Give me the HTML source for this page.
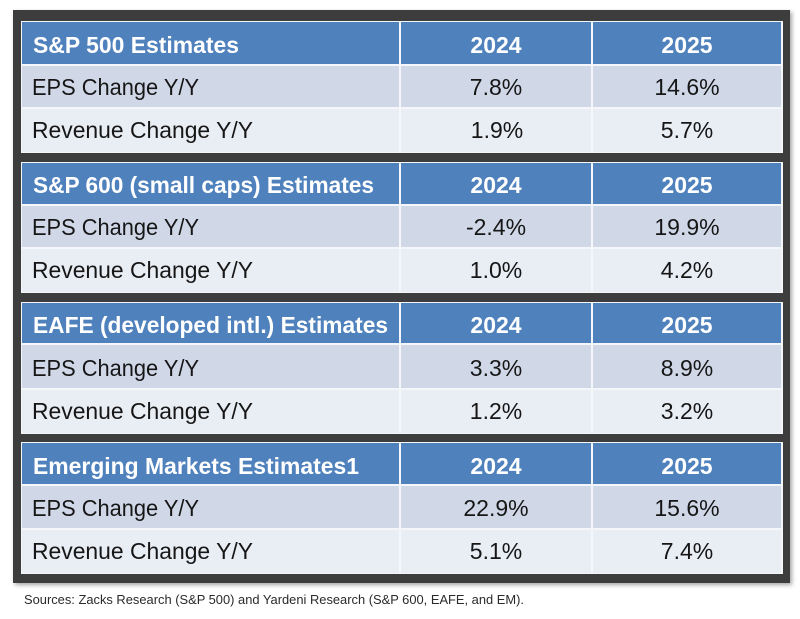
<!DOCTYPE html>
<html>
<head>
<meta charset="utf-8">
<style>
  html, body { margin:0; padding:0; background:#ffffff; }
  body { width:800px; height:619px; overflow:hidden; }
  svg { display:block; }
  text { font-family:"Liberation Sans", sans-serif; }
  .h { font-weight:bold; fill:#ffffff; font-size:23px; }
  .r { fill:#161616; font-size:23px; }
</style>
</head>
<body>
<svg width="800" height="619" viewBox="0 0 800 619" xmlns="http://www.w3.org/2000/svg">
  <defs>
    <filter id="sh" x="-5%" y="-5%" width="110%" height="110%">
      <feDropShadow dx="2" dy="2" stdDeviation="2" flood-color="#000" flood-opacity="0.35"/>
    </filter>
  </defs>
  <rect x="0" y="0" width="800" height="619" fill="#ffffff"/>
  <!-- dark frame -->
  <rect x="13" y="10" width="777" height="573" fill="#3c3c3c" filter="url(#sh)"/>

  <!-- Section 1 T=22 -->
  <g>
    <rect x="21" y="21" width="762" height="132" fill="#f4f6fa"/>
    <rect x="22" y="22" width="377" height="42" fill="#4f81bd"/>
    <rect x="401" y="22" width="190" height="42" fill="#4f81bd"/>
    <rect x="593" y="22" width="188" height="42" fill="#4f81bd"/>
    <rect x="22" y="66" width="377" height="41" fill="#d0d8e8"/>
    <rect x="401" y="66" width="190" height="41" fill="#d0d8e8"/>
    <rect x="593" y="66" width="188" height="41" fill="#d0d8e8"/>
    <rect x="22" y="109" width="377" height="43" fill="#e9edf4"/>
    <rect x="401" y="109" width="190" height="43" fill="#e9edf4"/>
    <rect x="593" y="109" width="188" height="43" fill="#e9edf4"/>
    <text class="h" x="33" y="53" textLength="206" lengthAdjust="spacingAndGlyphs">S&amp;P 500 Estimates</text>
    <text class="h" x="496" y="53" text-anchor="middle">2024</text>
    <text class="h" x="687" y="53" text-anchor="middle">2025</text>
    <text class="r" x="32" y="95" textLength="167" lengthAdjust="spacingAndGlyphs">EPS Change Y/Y</text>
    <text class="r" x="496" y="95" text-anchor="middle">7.8%</text>
    <text class="r" x="687" y="95" text-anchor="middle">14.6%</text>
    <text class="r" x="32" y="138" textLength="221" lengthAdjust="spacingAndGlyphs">Revenue Change Y/Y</text>
    <text class="r" x="497" y="138" text-anchor="middle">1.9%</text>
    <text class="r" x="687" y="138" text-anchor="middle">5.7%</text>
  </g>

  <!-- Section 2 T=163 -->
  <g transform="translate(0,141)">
    <rect x="21" y="21" width="762" height="131" fill="#f4f6fa"/>
    <rect x="22" y="22" width="377" height="41" fill="#4f81bd"/>
    <rect x="401" y="22" width="190" height="41" fill="#4f81bd"/>
    <rect x="593" y="22" width="188" height="41" fill="#4f81bd"/>
    <rect x="22" y="65" width="377" height="41" fill="#d0d8e8"/>
    <rect x="401" y="65" width="190" height="41" fill="#d0d8e8"/>
    <rect x="593" y="65" width="188" height="41" fill="#d0d8e8"/>
    <rect x="22" y="108" width="377" height="43" fill="#e9edf4"/>
    <rect x="401" y="108" width="190" height="43" fill="#e9edf4"/>
    <rect x="593" y="108" width="188" height="43" fill="#e9edf4"/>
    <text class="h" x="33" y="52" textLength="341" lengthAdjust="spacingAndGlyphs">S&amp;P 600 (small caps) Estimates</text>
    <text class="h" x="496" y="52" text-anchor="middle">2024</text>
    <text class="h" x="687" y="52" text-anchor="middle">2025</text>
    <text class="r" x="32" y="94" textLength="167" lengthAdjust="spacingAndGlyphs">EPS Change Y/Y</text>
    <text class="r" x="496" y="94" text-anchor="middle">-2.4%</text>
    <text class="r" x="687" y="94" text-anchor="middle">19.9%</text>
    <text class="r" x="32" y="137" textLength="221" lengthAdjust="spacingAndGlyphs">Revenue Change Y/Y</text>
    <text class="r" x="496" y="137" text-anchor="middle">1.0%</text>
    <text class="r" x="687" y="137" text-anchor="middle">4.2%</text>
  </g>

  <!-- Section 3 T=303 -->
  <g transform="translate(0,281)">
    <rect x="21" y="21" width="762" height="132" fill="#f4f6fa"/>
    <rect x="22" y="22" width="377" height="40" fill="#4f81bd"/>
    <rect x="401" y="22" width="190" height="40" fill="#4f81bd"/>
    <rect x="593" y="22" width="188" height="40" fill="#4f81bd"/>
    <rect x="22" y="64" width="377" height="43" fill="#d0d8e8"/>
    <rect x="401" y="64" width="190" height="43" fill="#d0d8e8"/>
    <rect x="593" y="64" width="188" height="43" fill="#d0d8e8"/>
    <rect x="22" y="109" width="377" height="43" fill="#e9edf4"/>
    <rect x="401" y="109" width="190" height="43" fill="#e9edf4"/>
    <rect x="593" y="109" width="188" height="43" fill="#e9edf4"/>
    <text class="h" x="33" y="52" textLength="355" lengthAdjust="spacingAndGlyphs">EAFE (developed intl.) Estimates</text>
    <text class="h" x="496" y="52" text-anchor="middle">2024</text>
    <text class="h" x="687" y="52" text-anchor="middle">2025</text>
    <text class="r" x="32" y="95" textLength="167" lengthAdjust="spacingAndGlyphs">EPS Change Y/Y</text>
    <text class="r" x="496" y="95" text-anchor="middle">3.3%</text>
    <text class="r" x="687" y="95" text-anchor="middle">8.9%</text>
    <text class="r" x="32" y="138" textLength="221" lengthAdjust="spacingAndGlyphs">Revenue Change Y/Y</text>
    <text class="r" x="496" y="138" text-anchor="middle">1.2%</text>
    <text class="r" x="687" y="138" text-anchor="middle">3.2%</text>
  </g>

  <!-- Section 4 T=443 -->
  <g transform="translate(0,421)">
    <rect x="21" y="21" width="762" height="132" fill="#f4f6fa"/>
    <rect x="22" y="22" width="377" height="41" fill="#4f81bd"/>
    <rect x="401" y="22" width="190" height="41" fill="#4f81bd"/>
    <rect x="593" y="22" width="188" height="41" fill="#4f81bd"/>
    <rect x="22" y="65" width="377" height="42" fill="#d0d8e8"/>
    <rect x="401" y="65" width="190" height="42" fill="#d0d8e8"/>
    <rect x="593" y="65" width="188" height="42" fill="#d0d8e8"/>
    <rect x="22" y="109" width="377" height="43" fill="#e9edf4"/>
    <rect x="401" y="109" width="190" height="43" fill="#e9edf4"/>
    <rect x="593" y="109" width="188" height="43" fill="#e9edf4"/>
    <text class="h" x="33" y="53" textLength="326" lengthAdjust="spacingAndGlyphs">Emerging Markets Estimates1</text>
    <text class="h" x="496" y="53" text-anchor="middle">2024</text>
    <text class="h" x="687" y="53" text-anchor="middle">2025</text>
    <text class="r" x="32" y="95" textLength="167" lengthAdjust="spacingAndGlyphs">EPS Change Y/Y</text>
    <text class="r" x="496" y="95" text-anchor="middle">22.9%</text>
    <text class="r" x="687" y="95" text-anchor="middle">15.6%</text>
    <text class="r" x="32" y="138" textLength="221" lengthAdjust="spacingAndGlyphs">Revenue Change Y/Y</text>
    <text class="r" x="496" y="138" text-anchor="middle">5.1%</text>
    <text class="r" x="687" y="138" text-anchor="middle">7.4%</text>
  </g>

  <!-- Sources -->
  <text x="24" y="604" font-size="12.5" fill="#2a2a2a" textLength="500" lengthAdjust="spacingAndGlyphs">Sources: Zacks Research (S&amp;P 500) and Yardeni Research (S&amp;P 600, EAFE, and EM).</text>
</svg>
</body>
</html>
